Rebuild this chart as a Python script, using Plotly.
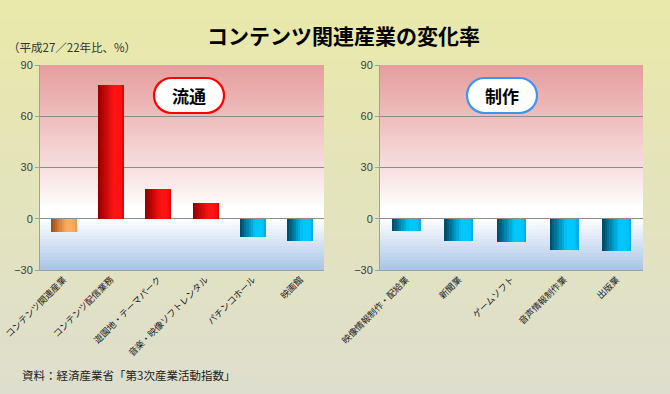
import plotly.graph_objects as go

W, H = 670, 394

# ---- data ----
dist_cats = ["コンテンツ関連産業", "コンテンツ配信業務", "遊園地・テーマパーク",
             "音楽・映像ソフトレンタル", "パチンコホール", "映画館"]
dist_vals = [-7.7, 78.3, 17.4, 9.4, -10.7, -13.1]
prod_cats = ["映像情報制作・配給業", "新聞業", "ゲームソフト", "音声情報制作業", "出版業"]
prod_vals = [-7.4, -12.9, -13.4, -18.3, -18.9]
y_ticks = [-30, 0, 30, 60, 90]
title_text = "コンテンツ関連産業の変化率"
unit_text = "（平成27／22年比、%）"
source_text = "資料：経済産業省「第3次産業活動指数」"
panel_labels = ["流通", "制作"]

JP = "Noto Sans CJK JP"
YMIN, YMAX = -30, 90


def px_x(x):
    return x / W


def px_y(y):
    return 1 - y / H


def lerp(a, b, t):
    return tuple(a[i] + (b[i] - a[i]) * t for i in range(3))


def rgb(c):
    return "rgb(%d,%d,%d)" % tuple(int(round(v)) for v in c)


PAL = {
    "red": ((150, 0, 0), (255, 18, 18), (235, 0, 0)),
    "blue": ((0, 78, 108), (0, 200, 255), (0, 175, 232)),
    "orange": ((165, 78, 20), (255, 172, 92), (240, 152, 80)),
}


def grad_color(kind, t):
    dark, bright, edge = PAL[kind]
    if t < 0.6:
        return lerp(dark, bright, t / 0.6)
    if t < 0.88:
        return bright
    return lerp(bright, edge, (t - 0.88) / 0.12)


fig = go.Figure()


def add_bars(cats, vals, xa, ya, first_total):
    kinds = []
    for i, v in enumerate(vals):
        if first_total and i == 0:
            kinds.append("orange")
        elif v >= 0:
            kinds.append("red")
        else:
            kinds.append("blue")
    N = 12
    bw = 0.55
    for k in range(N):
        t = k / (N - 1)
        fig.add_trace(go.Bar(
            x=cats, y=vals,
            width=bw * (1 - k / N), offset=-bw / 2 + bw * k / N,
            marker=dict(color=[rgb(grad_color(kd, t)) for kd in kinds], line=dict(width=0)),
            xaxis=xa, yaxis=ya, hoverinfo="skip", showlegend=False,
        ))


add_bars(dist_cats, dist_vals, "x", "y", True)
add_bars(prod_cats, prod_vals, "x2", "y2", False)

shapes = []
# paper background gradient
NS = 40
top_c, bot_c = (233, 233, 170), (222, 222, 206)
for i in range(NS):
    c = lerp(top_c, bot_c, i / (NS - 1))
    shapes.append(dict(type="rect", xref="paper", yref="paper", x0=0, x1=1,
                       y0=1 - (i + 1) / NS, y1=1 - i / NS + 0.001,
                       fillcolor=rgb(c), line=dict(width=0), layer="below"))


def area_color(y):
    if y >= 0:
        t = y / 90
        if t < 0.08:
            return (255, 255, 255)
        t = (t - 0.08) / 0.92
        return lerp((255, 255, 255), (230, 158, 158), t ** 0.85)
    t = -y / 30
    return lerp((255, 255, 255), (168, 196, 232), t)


step = 2
for xr, yr in (("x domain", "y"), ("x2 domain", "y2")):
    y = YMIN
    while y < YMAX:
        c = area_color(y + step / 2)
        shapes.append(dict(type="rect", xref=xr, yref=yr, x0=0, x1=1,
                           y0=y, y1=min(y + step + 0.3, YMAX),
                           fillcolor=rgb(c), line=dict(width=0), layer="below"))
        y += step


def stadium(x0, y0, x1, y1):
    r = (y1 - y0) / 2
    k = 0.5523 * r
    cy = (y0 + y1) / 2

    def P(x, y):
        return "%.5f,%.5f" % (px_x(x), px_y(y))
    path = "M " + P(x0 + r, y0)
    path += " L " + P(x1 - r, y0)
    path += " C " + P(x1 - r + k, y0) + " " + P(x1, cy - k) + " " + P(x1, cy)
    path += " C " + P(x1, cy + k) + " " + P(x1 - r + k, y1) + " " + P(x1 - r, y1)
    path += " L " + P(x0 + r, y1)
    path += " C " + P(x0 + r - k, y1) + " " + P(x0, cy + k) + " " + P(x0, cy)
    path += " C " + P(x0, cy - k) + " " + P(x0 + r - k, y0) + " " + P(x0 + r, y0) + " Z"
    return path


shapes.append(dict(type="path", xref="paper", yref="paper",
                   path=stadium(154, 78, 224, 113), fillcolor="white",
                   line=dict(color="#ff0000", width=2.2), layer="above"))
shapes.append(dict(type="path", xref="paper", yref="paper",
                   path=stadium(467, 78, 537, 113), fillcolor="white",
                   line=dict(color="#3a96f0", width=2.2), layer="above"))

ydom = [px_y(270), px_y(65)]
zero_pos = ydom[0] + (0 - YMIN) / (YMAX - YMIN) * (ydom[1] - ydom[0])

axis_common_y = dict(range=[YMIN, YMAX], tickvals=y_ticks, showgrid=True,
                     gridcolor="#8c8c8c", gridwidth=1, zeroline=False,
                     showline=True, linecolor="#a0a0a0", linewidth=1,
                     ticks="outside", ticklen=4, tickcolor="#a0a0a0",
                     tickfont=dict(family="Liberation Sans", size=11, color="#404040"),
                     domain=ydom, fixedrange=True, automargin=False)
axis_common_x = dict(showgrid=False, showline=True, linecolor="#a0a0a0", linewidth=1,
                     ticks="", tickangle=-45, fixedrange=True, automargin=False,
                     tickfont=dict(family=JP, size=9, color="#222222"))


def ann(text, x, y, size, xanchor="center", color="#000000", weight="normal"):
    return dict(text=text, xref="paper", yref="paper", x=px_x(x), y=px_y(y),
                xanchor=xanchor, yanchor="middle", showarrow=False,
                font=dict(family=JP, size=size, color=color, weight=weight))


fig.update_layout(
    width=W, height=H,
    margin=dict(l=0, r=0, t=0, b=0, pad=0, autoexpand=False),
    paper_bgcolor="rgb(228,228,190)",
    plot_bgcolor="rgba(0,0,0,0)",
    barmode="overlay",
    bargap=0,
    showlegend=False,
    shapes=shapes,
    xaxis=dict(domain=[px_x(40), px_x(324)], anchor="y",
               range=[-0.5, len(dist_cats) - 0.5], **axis_common_x),
    yaxis=dict(anchor="x", **axis_common_y),
    xaxis2=dict(domain=[px_x(380), px_x(643)], anchor="y2",
                range=[-0.5, len(prod_cats) - 0.5], **axis_common_x),
    yaxis2=dict(anchor="x2", **axis_common_y),
    xaxis3=dict(overlaying="x", anchor="free", position=zero_pos, type="linear",
                range=[-0.5, len(dist_cats) - 0.5],
                tickvals=[i + 0.5 for i in range(len(dist_cats) - 1)],
                ticks="outside", ticklen=4, tickcolor="#909090",
                showline=True, linecolor="#909090", linewidth=1.5, automargin=False,
                showticklabels=False, showgrid=False, zeroline=False, fixedrange=True),
    xaxis4=dict(overlaying="x2", anchor="free", position=zero_pos, type="linear",
                range=[-0.5, len(prod_cats) - 0.5],
                tickvals=[i + 0.5 for i in range(len(prod_cats) - 1)],
                ticks="outside", ticklen=4, tickcolor="#909090",
                showline=True, linecolor="#909090", linewidth=1.5, automargin=False,
                showticklabels=False, showgrid=False, zeroline=False, fixedrange=True),
    annotations=[
        ann(title_text, 343.5, 35, 21, weight="bold"),
        ann(unit_text, 6, 47, 11.5, xanchor="left", color="#333333"),
        ann(source_text, 20, 375, 11.5, xanchor="left", color="#222222"),
        ann(panel_labels[0], 189, 95.5, 17, weight="bold"),
        ann(panel_labels[1], 502, 95.5, 17, weight="bold"),
    ],
)

fig.write_html("out.html", config={"displayModeBar": False},
               post_script="document.body.style.margin='0';document.body.style.padding='0';")
